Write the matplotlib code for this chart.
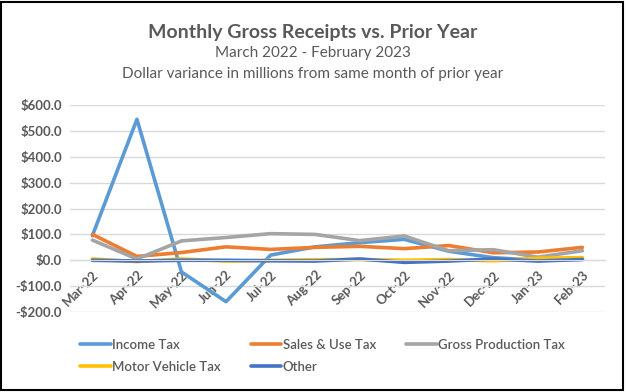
import matplotlib
matplotlib.use("Agg")
import matplotlib.pyplot as plt
from matplotlib.patches import Rectangle
from matplotlib.ticker import FuncFormatter

plt.rcParams['font.family'] = ['Lato', 'DejaVu Sans']

months = ['Mar-22', 'Apr-22', 'May-22', 'Jun-22', 'Jul-22', 'Aug-22',
          'Sep-22', 'Oct-22', 'Nov-22', 'Dec-22', 'Jan-23', 'Feb-23']
income_tax = [95, 545, -45, -160, 20, 52, 68, 81, 35, 10, 0, 4]
sales_use_tax = [100, 15, 30, 52, 42, 50, 54, 45, 57, 29, 32, 50]
gross_production_tax = [78, 5, 75, 88, 103, 100, 76, 94, 37, 41, 12, 37]
motor_vehicle_tax = [5, -5, 5, -3, 0, 2, 3, 0, 3, -2, 8, 10]
other = [0, -3, 0, 0, -2, -3, 5, -8, -3, 5, -3, 3]

series = [
    ('Income Tax', income_tax, '#5B9BD5'),
    ('Sales & Use Tax', sales_use_tax, '#ED7D31'),
    ('Gross Production Tax', gross_production_tax, '#A5A5A5'),
    ('Motor Vehicle Tax', motor_vehicle_tax, '#FFC000'),
    ('Other', other, '#4472C4'),
]
txt = '#595959'

fig = plt.figure(figsize=(6.26, 3.92), dpi=100)
ax = fig.add_axes([0.112, 0.204, 0.854, 0.528])

x = range(len(months))
lines = []
for name, vals, col in series:
    ln, = ax.plot(x, vals, color=col, lw=2.6, label=name, solid_capstyle='round')
    lines.append(ln)

ax.set_ylim(-200, 600)
ax.set_xlim(-0.5, len(months) - 0.5)
ax.set_yticks(range(-200, 601, 100))
ax.yaxis.set_major_formatter(FuncFormatter(
    lambda v, p: ('-$%.1f' % -v) if v < 0 else ('$%.1f' % v)))
ax.grid(axis='y', color='#D9D9D9', lw=1)
ax.set_axisbelow(True)
for s in ['top', 'right', 'left']:
    ax.spines[s].set_visible(False)
ax.spines['bottom'].set_position(('data', 0))
ax.spines['bottom'].set_color('#D9D9D9')
ax.set_xticks(x)
ax.set_xticklabels(months, rotation=45, ha='right', rotation_mode='anchor')
ax.tick_params(axis='x', length=0, pad=6, labelsize=9.5, colors=txt)
ax.tick_params(axis='y', length=0, pad=6, labelsize=9.5, colors=txt)
for lab in ax.get_xticklabels() + ax.get_yticklabels():
    lab.set_fontweight('bold')

fig.text(0.5, 0.918, 'Monthly Gross Receipts vs. Prior Year', ha='center',
         va='center', fontsize=14, fontweight='bold', color=txt)
fig.text(0.5, 0.866, 'March 2022 - February 2023', ha='center', va='center',
         fontsize=11, color=txt)
fig.text(0.5, 0.81, 'Dollar variance in millions from same month of prior year',
         ha='center', va='center', fontsize=11, color=txt)

# matplotlib fills legend columns first, so reorder to get Excel's row order
order = [0, 3, 1, 4, 2]
ax.legend([lines[i] for i in order], [series[i][0] for i in order],
          loc='upper left', bbox_to_anchor=(0.019, -0.13), ncol=3,
          frameon=False, labelcolor=txt, handlelength=2.3,
          handletextpad=0.1, columnspacing=2.3, labelspacing=0.75,
          borderaxespad=0, borderpad=0, prop={'weight': 'semibold', 'size': 9.5})

fig.patches.append(Rectangle((0.002, 0.004), 0.994, 0.99, transform=fig.transFigure,
                             fill=False, edgecolor='black', lw=1.5))

fig.savefig('out.png', dpi=100)
